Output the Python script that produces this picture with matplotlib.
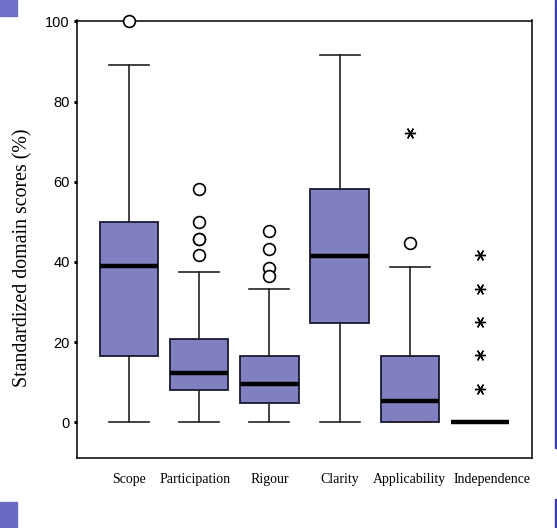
import numpy as np
import matplotlib
matplotlib.use("Agg")
import matplotlib.pyplot as plt
import matplotlib.transforms as mtransforms
from matplotlib.patches import Rectangle

# domain scores
domains = ["Scope", "Participation", "Rigour", "Clarity", "Applicability", "Independence"]
q1 = [16.5, 8.1, 4.7, 24.8, 0.0, 0.0]
med = [38.9, 12.3, 9.6, 41.5, 5.2, 0.0]
q3 = [50.0, 20.8, 16.6, 58.3, 16.5, 0.0]
whislo = [0.0, 0.0, 0.0, 0.0, 0.0, 0.0]
whishi = [89.0, 37.5, 33.3, 91.7, 38.8, 0.0]
# open circles
outliers = [[100.0], [58.3, 50.0, 45.8, 45.8, 41.7], [47.6, 43.3, 38.6, 36.4], [], [44.7], []]
# asterisks
extremes = [[], [], [], [], [72.2], [41.7, 33.3, 25.0, 16.7, 8.3]]
yticks = [0, 20, 40, 60, 80, 100]

fig = plt.figure(figsize=(5.57, 5.28), dpi=100)
ax = fig.add_axes([77 / 557, 70 / 528, 455 / 557, 437.5 / 528])

stats = []
for i in range(len(domains)):
    stats.append(dict(q1=q1[i], med=med[i], q3=q3[i], whislo=whislo[i],
                      whishi=whishi[i], fliers=[], label=domains[i]))

pos = np.arange(1, len(domains) + 1)
ax.bxp(stats, positions=pos, widths=0.83, capwidths=0.57, patch_artist=True,
       showfliers=False,
       boxprops=dict(facecolor="#8080c0", edgecolor="#1a1a33", linewidth=1.3),
       medianprops=dict(color="black", linewidth=3.2, solid_capstyle="butt"),
       whiskerprops=dict(color="#222222", linewidth=1.2),
       capprops=dict(color="#222222", linewidth=1.2))

for i in range(len(domains)):
    if outliers[i]:
        ax.plot([pos[i]] * len(outliers[i]), outliers[i], linestyle="none",
                marker="o", markersize=8.5, markerfacecolor="white",
                markeredgecolor="black", markeredgewidth=1.2, clip_on=False, zorder=5)
    if extremes[i]:
        ax.plot([pos[i]] * len(extremes[i]), extremes[i], linestyle="none",
                marker=(6, 2, 90), markersize=8, markeredgecolor="black",
                markeredgewidth=1.0, zorder=5)

ax.set_xlim(0.26, 6.74)
ax.set_ylim(-8.9, 100.2)
ax.set_yticks(yticks)
ax.set_yticklabels([str(t) for t in yticks], fontfamily="Liberation Sans", fontsize=10.5)
ax.set_xticks(pos)
ax.set_xticklabels(domains, fontfamily="Liberation Serif", fontsize=10)
ax.tick_params(axis="y", direction="out", length=2.2, width=2.2, pad=3)
ax.tick_params(axis="x", length=0, pad=11)
for s in ax.spines.values():
    s.set_linewidth(1.1)
    s.set_color("black")

# labels in the original are nudged apart so they do not collide
shift_px = {"Participation": -4, "Independence": 12}
for lab in ax.get_xticklabels():
    dx = shift_px.get(lab.get_text(), 0)
    if dx:
        off = mtransforms.ScaledTranslation(dx / 100, 0, fig.dpi_scale_trans)
        lab.set_transform(lab.get_transform() + off)

fig.text(23 / 557, 1 - 258 / 528, "Standardized domain scores (%)", rotation=90,
         ha="center", va="center", fontfamily="Liberation Serif", fontsize=14.3)

# slide decorations around the chart
fig.patches.append(Rectangle((0, 1 - 16 / 528), 17 / 557, 16 / 528,
                             transform=fig.transFigure, color="#7070c8", zorder=0))
fig.patches.append(Rectangle((0, 0), 17 / 557, 26 / 528,
                             transform=fig.transFigure, color="#6a6ac4", zorder=0))
fig.patches.append(Rectangle((555 / 557, 1 - 448 / 528), 2 / 557, 448 / 528,
                             transform=fig.transFigure, color="#3c3cb4", zorder=0))
fig.patches.append(Rectangle((555 / 557, 0), 2 / 557, 29 / 528,
                             transform=fig.transFigure, color="#3c3cb4", zorder=0))

fig.savefig("out.png", dpi=100)
